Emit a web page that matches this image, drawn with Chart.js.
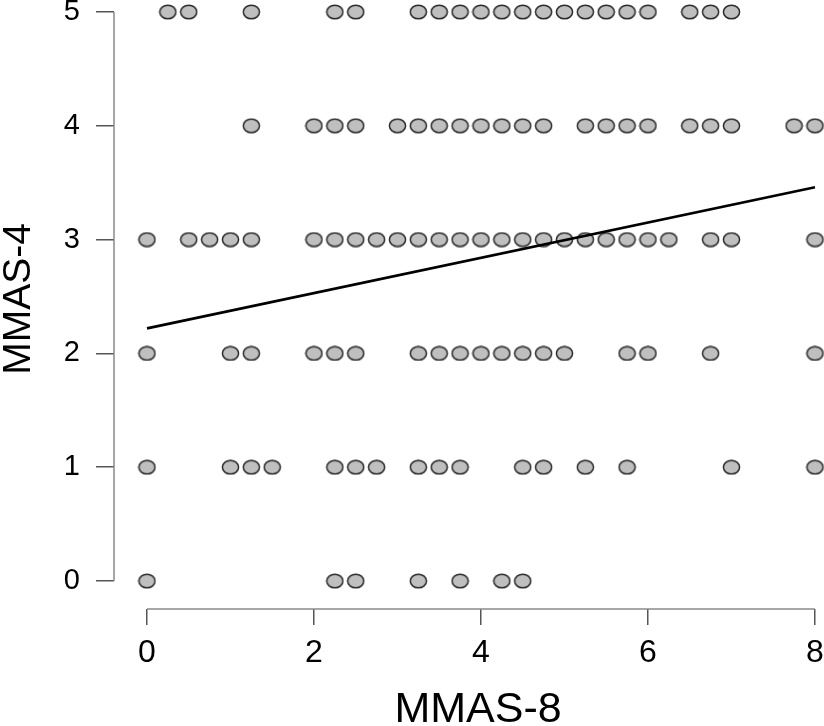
<!DOCTYPE html>
<html>
<head>
<meta charset="utf-8">
<script src="https://cdn.jsdelivr.net/npm/chart.js@4.4.1/dist/chart.umd.min.js"></script>
<style>
  html, body { margin: 0; padding: 0; background: #ffffff; overflow: hidden; width: 824px; height: 726px; }
  #wrap { position: absolute; left: 0; top: -11px; width: 842px; height: 737px; }
</style>
</head>
<body>
<div id="wrap"><canvas id="c"></canvas></div>
<script>
// MMAS-8 values observed at each MMAS-4 score
const mmas8Score5 = [0.25, 0.5, 1.25, 2.25, 2.5, 3.25, 3.5, 3.75, 4, 4.25, 4.5, 4.75, 5, 5.25, 5.5, 5.75, 6, 6.5, 6.75, 7];
const mmas8Score4 = [1.25, 2, 2.25, 2.5, 3, 3.25, 3.5, 3.75, 4, 4.25, 4.5, 4.75, 5.25, 5.5, 5.75, 6, 6.5, 6.75, 7, 7.75, 8];
const mmas8Score3 = [0, 0.5, 0.75, 1, 1.25, 2, 2.25, 2.5, 2.75, 3, 3.25, 3.5, 3.75, 4, 4.25, 4.5, 4.75, 5, 5.25, 5.5, 5.75, 6, 6.25, 6.75, 7, 8];
const mmas8Score2 = [0, 1, 1.25, 2, 2.25, 2.5, 3.25, 3.5, 3.75, 4, 4.25, 4.5, 4.75, 5, 5.75, 6, 6.75, 8];
const mmas8Score1 = [0, 1, 1.25, 1.5, 2.25, 2.5, 2.75, 3.25, 3.5, 3.75, 4.5, 4.75, 5.25, 5.75, 7, 8];
const mmas8Score0 = [0, 2.25, 2.5, 3.25, 3.75, 4.25, 4.5];
const mmas4Scores = [5, 4, 3, 2, 1, 0];

// Fitted regression line end points (MMAS-8, MMAS-4)
const fitX = [0, 8];
const fitY = [2.22, 3.46];

const xTickValues = [0, 2, 4, 6, 8];
const yTickValues = [0, 1, 2, 3, 4, 5];

const rows = [mmas8Score5, mmas8Score4, mmas8Score3, mmas8Score2, mmas8Score1, mmas8Score0];
const scatterPoints = [];
rows.forEach((row, i) => row.forEach(x => scatterPoints.push({ x: x, y: mmas4Scores[i] })));
const fitPoints = fitX.map((x, i) => ({ x: x, y: fitY[i] }));

// elliptical marker (R pch=21 look)
const marker = document.createElement('canvas');
marker.width = 19; marker.height = 16;
(function () {
  const g = marker.getContext('2d');
  g.beginPath();
  g.ellipse(9.5, 8, 8.1, 6.8, 0, 0, Math.PI * 2);
  g.fillStyle = '#bfbfbf';
  g.fill();
  g.lineWidth = 1.5;
  g.strokeStyle = '#2b2b2b';
  g.stroke();
})();

const rAxisLines = {
  id: 'rAxisLines',
  beforeDatasetsDraw(chart) {
    const { ctx, chartArea, scales } = chart;
    const xs = scales.x, ys = scales.y;
    ctx.save();
    ctx.strokeStyle = '#8a8a8a';
    ctx.lineWidth = 1.5;
    ctx.beginPath();
    ctx.moveTo(chartArea.left, ys.getPixelForValue(yTickValues[0]));
    ctx.lineTo(chartArea.left, ys.getPixelForValue(yTickValues[yTickValues.length - 1]));
    ctx.moveTo(xs.getPixelForValue(xTickValues[0]), chartArea.bottom);
    ctx.lineTo(xs.getPixelForValue(xTickValues[xTickValues.length - 1]), chartArea.bottom);
    ctx.stroke();
    ctx.restore();
  }
};

function noPad(s) { s.paddingLeft = 0; s.paddingRight = 0; s.paddingTop = 0; s.paddingBottom = 0; }

new Chart(document.getElementById('c'), {
  type: 'scatter',
  data: {
    datasets: [
      {
        type: 'line',
        data: fitPoints,
        borderColor: '#000000',
        borderWidth: 2.6,
        pointRadius: 0,
        fill: false,
        order: 0
      },
      {
        data: scatterPoints,
        pointStyle: marker,
        pointRadius: 8,
        order: 1
      }
    ]
  },
  options: {
    responsive: true,
    maintainAspectRatio: false,
    animation: false,
    events: [],
    layout: { padding: 0, autoPadding: false },
    plugins: { legend: { display: false }, tooltip: { enabled: false } },
    scales: {
      x: {
        type: 'linear',
        min: -0.3952,
        max: 8.3234,
        afterBuildTicks: s => { s.ticks = xTickValues.map(v => ({ value: v })); },
        afterFit: s => { s.height = 117; noPad(s); },
        border: { display: false },
        grid: { display: true, drawOnChartArea: false, drawTicks: true, tickLength: 16, color: '#555555', lineWidth: 1.5 },
        ticks: { color: '#000000', padding: 9, maxRotation: 0, autoSkip: false,
                 font: { family: 'Liberation Sans, Arial, sans-serif', size: 32 } },
        title: { display: true, text: 'MMAS-8', color: '#000000', padding: 0,
                 font: { family: 'Liberation Sans, Arial, sans-serif', size: 43, lineHeight: 0.75 } }
      },
      y: {
        type: 'linear',
        min: -0.2460,
        max: 5.2021,
        afterBuildTicks: s => { s.ticks = yTickValues.map(v => ({ value: v })); },
        afterFit: s => { s.width = 114; noPad(s); },
        border: { display: false },
        grid: { display: true, drawOnChartArea: false, drawTicks: true, tickLength: 18, color: '#555555', lineWidth: 1.5 },
        ticks: { color: '#000000', padding: 16, autoSkip: false,
                 font: { family: 'Liberation Sans, Arial, sans-serif', size: 29 } },
        title: { display: true, text: 'MMAS-4', color: '#000000', padding: 0,
                 font: { family: 'Liberation Sans, Arial, sans-serif', size: 39, lineHeight: 1 } }
      }
    }
  },
  plugins: [rAxisLines]
});
</script>
</body>
</html>
